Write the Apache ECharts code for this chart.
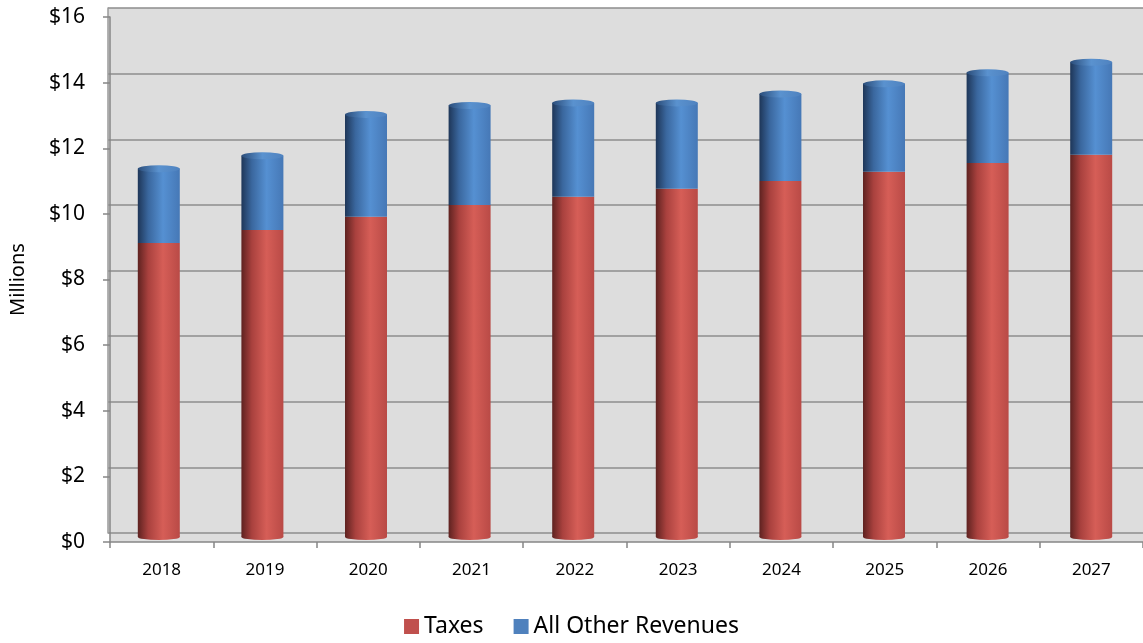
<!DOCTYPE html>
<html>
<head>
<meta charset="utf-8">
<script src="https://cdn.jsdelivr.net/npm/echarts@6/dist/echarts.min.js"></script>
<style>
html,body{margin:0;padding:0;background:#fff;}
#c{width:1143px;height:643px;}
</style>
</head>
<body>
<div id="c"></div>
<script>
const years = ['2018','2019','2020','2021','2022','2023','2024','2025','2026','2027'];
const taxes = [8.96, 9.36, 9.76, 10.12, 10.37, 10.61, 10.85, 11.13, 11.40, 11.65];
const otherRevenues = [2.26, 2.26, 3.12, 3.03, 2.86, 2.62, 2.65, 2.68, 2.75, 2.82];
const yTicks = [0, 2, 4, 6, 8, 10, 12, 14, 16];

const totals = taxes.map((t, i) => t + otherRevenues[i]);
const FONT = '"Noto Sans", "Open Sans", sans-serif';

const redGrad = new echarts.graphic.LinearGradient(0, 0, 1, 0, [
  {offset: 0, color: '#5e2220'},
  {offset: 0.25, color: '#a9413e'},
  {offset: 0.6, color: '#d65e57'},
  {offset: 1, color: '#b94a46'}
]);
const blueGrad = new echarts.graphic.LinearGradient(0, 0, 1, 0, [
  {offset: 0, color: '#1e3658'},
  {offset: 0.25, color: '#3a679e'},
  {offset: 0.6, color: '#5590d2'},
  {offset: 1, color: '#4678b6'}
]);
const capGrad = new echarts.graphic.LinearGradient(0, 0, 1, 0, [
  {offset: 0, color: '#2b4d7a'},
  {offset: 0.5, color: '#5a92cf'},
  {offset: 1, color: '#4f82bf'}
]);

const chart = echarts.init(document.getElementById('c'));
chart.setOption({
  animation: false,
  textStyle: {fontFamily: FONT},
  grid: [
    {left: 107, right: 0, top: 17, bottom: 101, show: true, backgroundColor: '#DDDDDD', borderWidth: 0},
    {left: 108, right: 0, top: 8, bottom: 110, show: true, backgroundColor: '#DDDDDD', borderWidth: 0},
    {left: 107, right: 0, top: 12, bottom: 106}
  ],
  legend: {
    data: [
      {name: 'Taxes', itemStyle: {color: '#C0504D'}},
      {name: 'All Other Revenues', itemStyle: {color: '#4F81BD'}}
    ],
    bottom: 0,
    left: 'center',
    itemWidth: 15,
    itemHeight: 15,
    itemGap: 30,
    icon: 'rect',
    textStyle: {fontSize: 23, color: '#000', fontFamily: FONT}
  },
  xAxis: [
    {
      type: 'category', gridIndex: 0, data: years,
      axisLine: {lineStyle: {color: '#868686', width: 1.5}},
      axisTick: {show: true, length: 6, lineStyle: {color: '#868686', width: 1.5}},
      axisLabel: {fontSize: 17, color: '#000', margin: 20, fontFamily: FONT}
    },
    {type: 'category', gridIndex: 1, data: years, show: false},
    {type: 'category', gridIndex: 2, data: years, show: false}
  ],
  yAxis: [
    {
      type: 'value', gridIndex: 0, min: 0, max: 16, interval: 2,
      name: 'Millions', nameLocation: 'middle', nameGap: 82, nameRotate: 90,
      nameTextStyle: {fontSize: 20, color: '#000', fontFamily: FONT},
      axisLine: {show: true, lineStyle: {color: '#868686', width: 1.5}},
      axisTick: {show: true, length: 7, lineStyle: {color: '#868686', width: 1.5}},
      axisLabel: {fontSize: 21, color: '#000', margin: 25, fontFamily: FONT,
        formatter: v => yTicks.includes(v) ? '$' + v : ''},
      splitLine: {show: false}
    },
    {
      type: 'value', gridIndex: 1, min: 0, max: 16, interval: 2,
      axisLine: {show: true, lineStyle: {color: '#9a9a9a', width: 1.5}},
      axisTick: {show: false}, axisLabel: {show: false},
      splitLine: {show: true, lineStyle: {color: '#8c8c8c', width: 1.6}}
    },
    {type: 'value', gridIndex: 2, min: 0, max: 16, show: false, splitLine: {show: false}}
  ],
  series: [
    {
      name: 'Taxes', type: 'bar', stack: 'rev', xAxisIndex: 2, yAxisIndex: 2,
      data: taxes, barWidth: 42,
      itemStyle: {color: redGrad}
    },
    {
      name: 'All Other Revenues', type: 'bar', stack: 'rev', xAxisIndex: 2, yAxisIndex: 2,
      data: otherRevenues, barWidth: 42,
      itemStyle: {color: blueGrad}
    },
    {
      name: 'cap', type: 'pictorialBar', xAxisIndex: 2, yAxisIndex: 2,
      data: totals, symbol: 'circle', symbolSize: [42, 7],
      symbolPosition: 'end', symbolOffset: [0, '-50%'], z: 5,
      itemStyle: {color: capGrad}, silent: true
    },
    {
      name: 'base', type: 'pictorialBar', xAxisIndex: 2, yAxisIndex: 2,
      data: taxes, symbol: 'circle', symbolSize: [42, 6],
      symbolPosition: 'start', symbolOffset: [0, '50%'], z: 1,
      itemStyle: {color: redGrad}, silent: true
    }
  ]
});
</script>
</body>
</html>
